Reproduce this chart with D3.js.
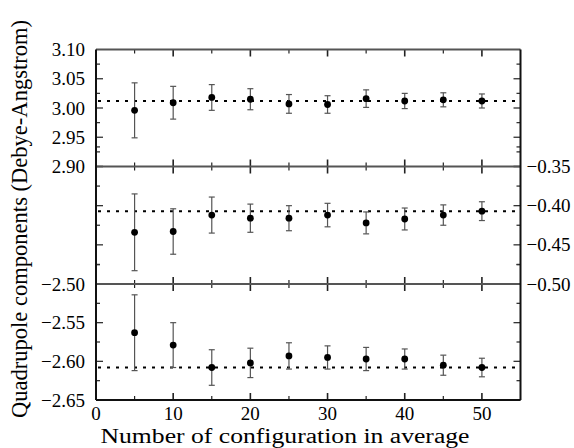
<!DOCTYPE html>
<html>
<head>
<meta charset="utf-8">
<script src="https://cdn.jsdelivr.net/npm/d3@7/dist/d3.min.js"></script>
<style>
  body { margin: 0; background: #fff; }
  svg { display: block; }
  text { font-family: "Liberation Serif", "Times New Roman", serif; fill: #000; }
</style>
</head>
<body>
<div id="chart"></div>
<script>
// number of configurations in each average
const configs = [5, 10, 15, 20, 25, 30, 35, 40, 45, 50];

// top component (left axis, upper)
const topMean = [2.996, 3.009, 3.018, 3.015, 3.007, 3.006, 3.016, 3.012, 3.014, 3.012];
const topErr = [0.047, 0.028, 0.022, 0.018, 0.016, 0.015, 0.015, 0.013, 0.012, 0.012];
const topRef = 3.012;

// middle component (right axis)
const midMean = [-0.434, -0.433, -0.412, -0.416, -0.416, -0.412, -0.422, -0.417, -0.412, -0.407];
const midErr = [0.049, 0.029, 0.023, 0.018, 0.016, 0.015, 0.014, 0.014, 0.013, 0.012];
const midRef = -0.407;

// bottom component (left axis, lower)
const botMean = [-2.563, -2.579, -2.608, -2.602, -2.593, -2.595, -2.597, -2.597, -2.605, -2.608];
const botErr = [0.049, 0.029, 0.023, 0.019, 0.017, 0.015, 0.015, 0.013, 0.013, 0.012];
const botRef = -2.608;

const topTicks = [3.10, 3.05, 3.00, 2.95, 2.90];
const midTicks = [-0.35, -0.40, -0.45, -0.50];
const botTicks = [-2.50, -2.55, -2.60, -2.65];
const xTicks = [0, 10, 20, 30, 40, 50];

const width = 574, height = 448;
const svg = d3.select("#chart").append("svg")
  .attr("width", width).attr("height", height);

const x = d3.scaleLinear().domain([0, 55]).range([96, 520.5]);

const panels = [
  { mean: topMean, err: topErr, ref: topRef, ticks: topTicks, side: "left",
    y: d3.scaleLinear().domain([2.90, 3.10]).range([166.5, 49.5]) },
  { mean: midMean, err: midErr, ref: midRef, ticks: midTicks, side: "right",
    y: d3.scaleLinear().domain([-0.50, -0.35]).range([284, 166.5]) },
  { mean: botMean, err: botErr, ref: botRef, ticks: botTicks, side: "left",
    y: d3.scaleLinear().domain([-2.65, -2.50]).range([400, 284]) }
];

const fmt = d3.format(".2f");

panels.forEach((p, i) => {
  const g = svg.append("g");
  const [y0, y1] = p.y.range(); // bottom, top
  const minor = d3.range(0, 8).map(k => p.y.domain()[0] + k * 0.025);

  // y ticks on both sides, inward
  [x.range()[0], x.range()[1]].forEach((xx, j) => {
    const dir = j === 0 ? 1 : -1;
    g.selectAll(null).data(minor).join("line")
      .attr("x1", xx).attr("x2", (d, k) => xx + dir * (k % 2 === 0 ? 7 : 4))
      .attr("y1", d => p.y(d)).attr("y2", d => p.y(d))
      .attr("stroke", "#333").attr("stroke-width", 1.3);
  });

  // x ticks, inward from top and bottom edges
  const xt = d3.range(5, 55, 5);
  [y1, y0].forEach((yy, j) => {
    const dir = j === 0 ? 1 : -1;
    g.selectAll(null).data(xt).join("line")
      .attr("x1", d => x(d)).attr("x2", d => x(d))
      .attr("y1", yy).attr("y2", d => yy + dir * (d % 10 === 0 ? 7 : 4))
      .attr("stroke", "#222").attr("stroke-width", d => d % 10 === 0 ? 1.6 : 1.2);
  });

  // reference dotted line
  g.append("line")
    .attr("x1", x(0) + 2).attr("x2", x(55))
    .attr("y1", p.y(p.ref)).attr("y2", p.y(p.ref))
    .attr("stroke", "#000").attr("stroke-width", 2)
    .attr("stroke-dasharray", "3,6");

  // error bars
  const eb = g.selectAll(null).data(configs).join("g")
    .attr("stroke", "#555").attr("stroke-width", 1.2);
  eb.append("line")
    .attr("x1", d => x(d)).attr("x2", d => x(d))
    .attr("y1", (d, k) => p.y(p.mean[k] - p.err[k]))
    .attr("y2", (d, k) => p.y(p.mean[k] + p.err[k]));
  eb.append("line")
    .attr("x1", d => x(d) - 3).attr("x2", d => x(d) + 3)
    .attr("y1", (d, k) => p.y(p.mean[k] + p.err[k]))
    .attr("y2", (d, k) => p.y(p.mean[k] + p.err[k]));
  eb.append("line")
    .attr("x1", d => x(d) - 3).attr("x2", d => x(d) + 3)
    .attr("y1", (d, k) => p.y(p.mean[k] - p.err[k]))
    .attr("y2", (d, k) => p.y(p.mean[k] - p.err[k]));

  // points
  g.selectAll(null).data(configs).join("circle")
    .attr("cx", d => x(d)).attr("cy", (d, k) => p.y(p.mean[k]))
    .attr("r", 3.4).attr("fill", "#000");

  // tick labels
  const left = p.side === "left";
  g.selectAll(null).data(p.ticks).join("text")
    .attr("x", left ? x.range()[0] - 11 : x.range()[1] + 6)
    .attr("y", d => p.y(d))
    .attr("dy", "0.35em")
    .attr("text-anchor", left ? "end" : "start")
    .attr("font-size", 19)
    .text(d => fmt(d));
});

// panel dividers and frame
[49.5, 166.5, 284].forEach(yy => {
  svg.append("line").attr("x1", x(0)).attr("x2", x(55))
    .attr("y1", yy).attr("y2", yy)
    .attr("stroke", "#555").attr("stroke-width", 2);
});
svg.append("line").attr("x1", x(0)).attr("x2", x(55))
  .attr("y1", 400).attr("y2", 400).attr("stroke", "#111").attr("stroke-width", 2);
[x(0), x(55)].forEach(xx => {
  svg.append("line").attr("x1", xx).attr("x2", xx)
    .attr("y1", 49.5).attr("y2", 400).attr("stroke", "#111").attr("stroke-width", 2);
});

// x tick labels
svg.selectAll(null).data(xTicks).join("text")
  .attr("x", d => x(d)).attr("y", 420)
  .attr("text-anchor", "middle").attr("font-size", 19)
  .text(d => d);

// axis titles
svg.append("text")
  .attr("x", 285).attr("y", 443)
  .attr("text-anchor", "middle").attr("font-size", 20)
  .attr("textLength", 369).attr("lengthAdjust", "spacingAndGlyphs")
  .text("Number of configuration in average");

svg.append("text")
  .attr("transform", "translate(27,219) rotate(-90)")
  .attr("text-anchor", "middle").attr("font-size", 23)
  .attr("textLength", 398).attr("lengthAdjust", "spacingAndGlyphs")
  .text("Quadrupole components (Debye-Angstrom)");
</script>
</body>
</html>
